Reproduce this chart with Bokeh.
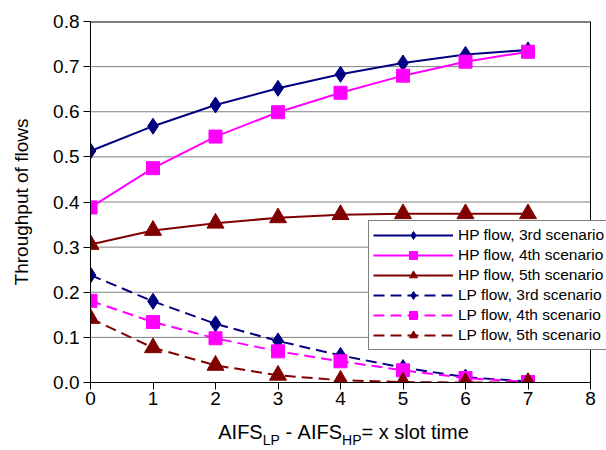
from bokeh.plotting import figure
from bokeh.models import (Range1d, FixedTicker, NumeralTickFormatter, Legend,
                          LegendItem, LinearAxis)
from bokeh.embed import file_html
from bokeh.resources import INLINE

# ---- data ----
x_slots = [0, 1, 2, 3, 4, 5, 6, 7]
hp3 = [0.513, 0.568, 0.615, 0.652, 0.683, 0.708, 0.727, 0.737]
hp4 = [0.388, 0.475, 0.545, 0.599, 0.642, 0.680, 0.711, 0.733]
hp5 = [0.306, 0.337, 0.353, 0.365, 0.372, 0.374, 0.374, 0.374]
lp3 = [0.238, 0.180, 0.130, 0.092, 0.060, 0.033, 0.012, 0.002]
lp4 = [0.181, 0.134, 0.098, 0.069, 0.047, 0.027, 0.010, 0.001]
lp5 = [0.142, 0.077, 0.038, 0.016, 0.005, 0.001, 0.000, 0.000]

series_names = ["HP flow, 3rd scenario", "HP flow, 4th scenario", "HP flow, 5th scenario",
                "LP flow, 3rd scenario", "LP flow, 4th scenario", "LP flow, 5th scenario"]
series_values = [hp3, hp4, hp5, lp3, lp4, lp5]

y_ticks = [0.0, 0.1, 0.2, 0.3, 0.4, 0.5, 0.6, 0.7, 0.8]
x_ticks = [0, 1, 2, 3, 4, 5, 6, 7, 8]

NAVY = "#000080"
MAGENTA = "#FF00FF"
DARKRED = "#800000"
colors = [NAVY, MAGENTA, DARKRED, NAVY, MAGENTA, DARKRED]
markers = ["diamond", "square", "triangle", "diamond", "square", "triangle"]
marker_sizes = {"diamond": 16, "square": 13, "triangle": 17}
dashes = ["solid", "solid", "solid", "11 6", "11 6", "11 6"]

FONT = "Liberation Sans"

# frame: left edge at 90 px, 62.5 px per slot; extended to the canvas right edge
FRAME_LEFT = 90
PX_PER_UNIT = 62.5
CANVAS_W = 606
x_end = (CANVAS_W - FRAME_LEFT) / PX_PER_UNIT

p = figure(width=CANVAS_W, height=450, output_backend="svg", toolbar_location=None,
           x_range=Range1d(0, x_end), y_range=Range1d(0, 0.8),
           min_border_left=FRAME_LEFT, min_border_right=0, min_border_top=21,
           min_border_bottom=68)
p.background_fill_color = "white"
p.border_fill_color = "white"
p.outline_line_color = None
p.xgrid.grid_line_color = None
p.ygrid.grid_line_color = None

# horizontal grid lines (gray) limited to the 0..8 plot box
inner = y_ticks[1:-1]
p.segment(x0=[x_ticks[0]] * len(inner), x1=[x_ticks[-1]] * len(inner),
          y0=inner, y1=inner, line_color="#808080", line_width=1)
# black box: top and right edges
p.segment(x0=[x_ticks[0]], x1=[x_ticks[-1]], y0=[y_ticks[-1]], y1=[y_ticks[-1]],
          line_color="black", line_width=2)
p.segment(x0=[x_ticks[-1]], x1=[x_ticks[-1]], y0=[y_ticks[0]], y1=[y_ticks[-1]],
          line_color="black", line_width=1)

p.yaxis.ticker = FixedTicker(ticks=y_ticks)
p.xaxis.ticker = FixedTicker(ticks=x_ticks)
p.xaxis.bounds = (x_ticks[0], x_ticks[-1])
p.yaxis.formatter = NumeralTickFormatter(format="0.0")

for ax in (p.xaxis[0], p.yaxis[0]):
    ax.axis_line_color = "black"
    ax.major_tick_line_color = "black"
    ax.major_tick_out = 7
    ax.major_tick_in = 0
    ax.minor_tick_line_color = None
    ax.major_label_text_font = FONT
    ax.major_label_text_font_size = "19px"
    ax.major_label_text_color = "black"
    ax.major_label_standoff = 4
p.xaxis.major_label_standoff = 2

p.yaxis.axis_label = "Throughput of flows"
p.yaxis.axis_label_text_font = FONT
p.yaxis.axis_label_text_font_size = "19px"
p.yaxis.axis_label_text_font_style = "normal"
p.yaxis.axis_label_text_color = "black"
p.yaxis.axis_label_standoff = 18

items = []
for name, vals, col, mk, dash in zip(series_names, series_values, colors, markers, dashes):
    r_line = p.line(x_slots, vals, line_color=col, line_width=2, line_dash=dash)
    r_mk = p.scatter(x_slots, vals, marker=mk, size=marker_sizes[mk],
                     fill_color=col, line_color=col)
    items.append(LegendItem(label=name, renderers=[r_line, r_mk]))

legend = Legend(items=items, location=(278, 32), orientation="vertical",
                border_line_color="black", border_line_width=1,
                background_fill_color="white", background_fill_alpha=1.0,
                label_text_font=FONT, label_text_font_size="15.5px",
                label_text_color="black",
                glyph_width=80, glyph_height=20, label_height=20,
                label_standoff=5, padding=4, spacing=0, margin=0)
p.add_layout(legend)

# ---- x-axis title "AIFS_LP - AIFS_HP = x slot time", built from text pieces ----
MAIN = 20
SUB = 14
# (text, is_subscript, advance in em) ; gaps are given with text None
pieces = [("AIFS", False, 2.223), ("LP", True, 1.223), (None, False, 0.278),
          ("-", False, 0.333), (None, False, 0.278), ("AIFS", False, 2.223),
          ("HP", True, 1.389), ("=", False, 0.584), (None, False, 0.278),
          ("x slot time", False, 4.501)]
total = sum(em * (SUB if sub else MAIN) for _, sub, em in pieces)
cur = 343 - total / 2
main_pos, main_txt, sub_pos, sub_txt = [], [], [], []
for t, sub, em in pieces:
    w = em * (SUB if sub else MAIN)
    if t is not None:
        c = (cur + w / 2 - FRAME_LEFT) / PX_PER_UNIT
        if sub:
            sub_pos.append(c); sub_txt.append(t)
        else:
            main_pos.append(c); main_txt.append(t)
    cur += w

def text_axis(pos, txt, size, standoff):
    ax = LinearAxis(ticker=FixedTicker(ticks=pos),
                    major_label_overrides={float(k): v for k, v in zip(pos, txt)})
    ax.axis_line_color = None
    ax.major_tick_line_color = None
    ax.minor_tick_line_color = None
    ax.major_tick_out = 0
    ax.major_tick_in = 0
    ax.major_label_text_font = FONT
    ax.major_label_text_font_size = f"{size}px"
    ax.major_label_text_color = "black"
    ax.major_label_standoff = standoff
    return ax

# subscripts first (lower row), then main pieces pulled back up over them
p.add_layout(text_axis(sub_pos, sub_txt, SUB, 24), "below")
p.add_layout(text_axis(main_pos, main_txt, MAIN, -30), "below")

open("out.html", "w").write(file_html(p, INLINE))
